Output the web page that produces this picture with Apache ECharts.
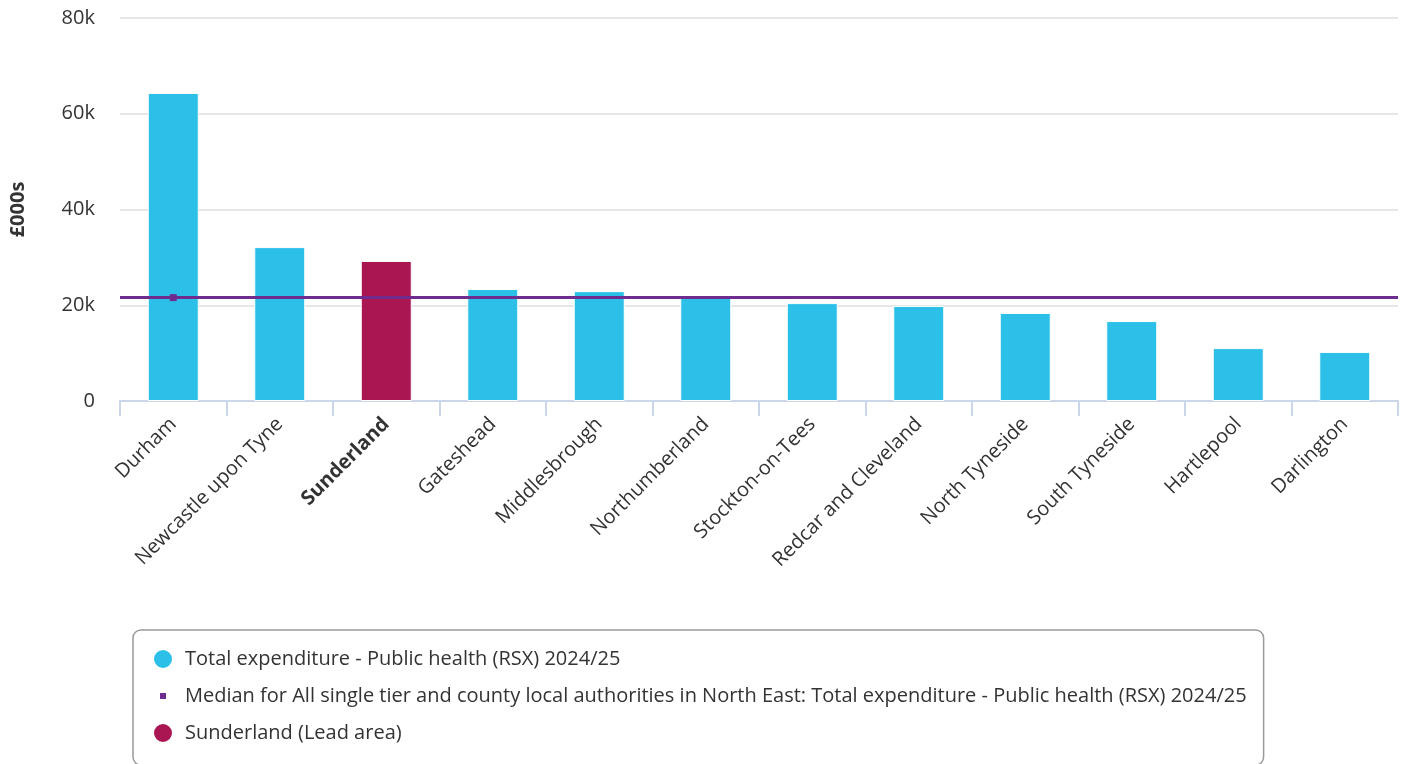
<!DOCTYPE html>
<html>
<head>
<meta charset="utf-8">
<style>
html,body{margin:0;padding:0;background:#fff;}
#chart{width:1406px;height:764px;}
</style>
<script src="https://cdn.jsdelivr.net/npm/echarts@6/dist/echarts.min.js"></script>
</head>
<body>
<div id="chart"></div>
<script>
const categories = ['Durham','Newcastle upon Tyne','Sunderland','Gateshead','Middlesbrough','Northumberland','Stockton-on-Tees','Redcar and Cleveland','North Tyneside','South Tyneside','Hartlepool','Darlington'];
const expenditure = [64350, 32150, 29250, 23400, 22950, 21700, 20450, 19850, 18400, 16700, 11050, 10250];
const leadArea = 'Sunderland';
const medianValue = 21600;
const yTicks = [0, 20000, 40000, 60000, 80000];

const seriesNames = {
  total: 'Total expenditure - Public health (RSX) 2024/25',
  median: 'Median for All single tier and county local authorities in North East: Total expenditure - Public health (RSX) 2024/25',
  lead: 'Sunderland (Lead area)'
};

const blue = '#2cc0e9';
const crimson = '#a91651';
const purple = '#6f2c8f';

const totalData = expenditure.map((v, i) => categories[i] === leadArea ? null : v);
const leadData = expenditure.map((v, i) => categories[i] === leadArea ? v : null);
const medianData = categories.map((c, i) => i === 0 ? medianValue : null);

const chart = echarts.init(document.getElementById('chart'));
chart.setOption({
  animation: false,
  textStyle: { fontFamily: 'Open Sans' },
  grid: { left: 119, right: 8, top: 18, bottom: 363, containLabel: false },
  xAxis: {
    type: 'category',
    data: categories,
    axisLine: { lineStyle: { color: '#ccd6eb', width: 2 } },
    axisTick: { show: true, length: 15, alignWithLabel: false, lineStyle: { color: '#ccd6eb', width: 2 } },
    axisLabel: {
      rotate: 45,
      interval: 0,
      margin: 20,
      color: '#333333',
      fontSize: 20,
      fontFamily: 'Open Sans',
      formatter: v => v === leadArea ? '{b|' + v + '}' : v,
      rich: { b: { fontWeight: 'bold', fontSize: 20, color: '#333333', fontFamily: 'Open Sans' } }
    }
  },
  yAxis: {
    type: 'value',
    min: yTicks[0],
    max: yTicks[yTicks.length - 1],
    interval: yTicks[1] - yTicks[0],
    name: '£000s',
    nameLocation: 'middle',
    nameRotate: 90,
    nameGap: 92,
    nameTextStyle: { fontWeight: 'bold', fontSize: 20, color: '#333333', fontFamily: 'Open Sans' },
    axisLine: { show: false },
    axisTick: { show: false },
    axisLabel: {
      color: '#333333', fontSize: 20, margin: 25, fontFamily: 'Open Sans',
      formatter: v => v === 0 ? '0' : (v / 1000) + 'k'
    },
    splitLine: { lineStyle: { color: '#e6e6e6', width: 2 } }
  },
  legend: {
    orient: 'vertical',
    left: 133,
    top: 630,
    height: 110,
    width: 1200,
    padding: [18, 17, 21, 19],
    itemGap: 16,
    itemWidth: 20,
    itemHeight: 20,
    borderColor: '#999999',
    borderWidth: 1.5,
    borderRadius: 8,
    textStyle: { color: '#333333', fontSize: 20, fontFamily: 'Open Sans', padding: [0, 0, 0, 7] },
    data: [
      { name: seriesNames.total, icon: 'circle' },
      { name: seriesNames.median, icon: 'path://M0,0M10,10M3.5,3.5h3v3h-3z' },
      { name: seriesNames.lead, icon: 'circle' }
    ]
  },
  series: [
    {
      name: seriesNames.total,
      type: 'bar',
      stack: 'v',
      barWidth: 51,
      data: totalData,
      itemStyle: { color: blue, borderColor: '#ffffff', borderWidth: 1 }
    },
    {
      name: seriesNames.lead,
      type: 'bar',
      stack: 'v',
      barWidth: 51,
      data: leadData,
      itemStyle: { color: crimson, borderColor: '#ffffff', borderWidth: 1 }
    },
    {
      name: seriesNames.median,
      type: 'line',
      data: medianData,
      symbol: 'rect',
      symbolSize: 7,
      showAllSymbol: true,
      itemStyle: { color: purple },
      lineStyle: { color: purple, width: 3 },
      z: 5,
      markLine: {
        silent: true,
        symbol: 'none',
        label: { show: false },
        lineStyle: { color: purple, width: 3, type: 'solid' },
        data: [{ yAxis: medianValue }]
      }
    }
  ]
});
</script>
</body>
</html>
